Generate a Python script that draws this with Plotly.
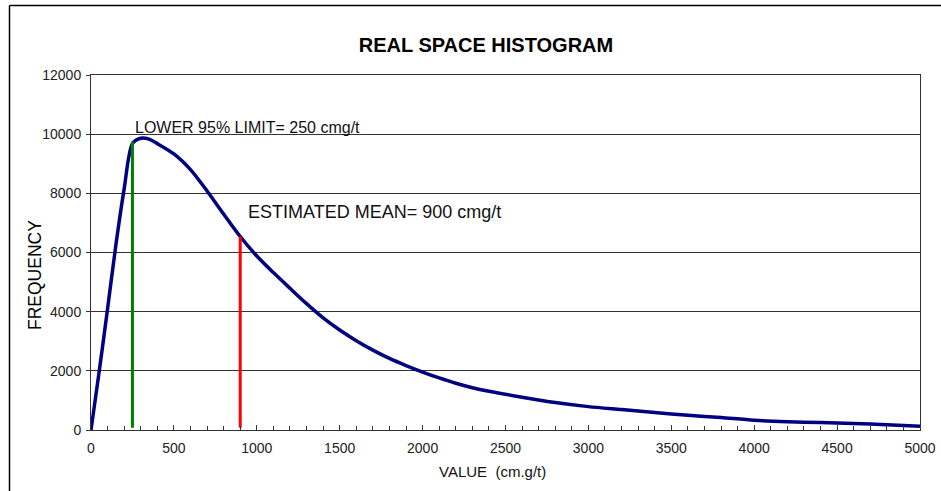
import plotly.graph_objects as go

# Data
x_values = [0, 50, 100, 150, 200, 250, 300, 350, 400, 500, 600, 700, 800, 900, 1000,
            1100, 1200, 1300, 1400, 1500, 1600, 1700, 1800, 1900, 2000, 2100, 2200, 2300,
            2400, 2600, 2800, 3000, 3200, 3400, 3600, 3800, 4000, 4200, 4400, 4600, 4800, 5000]
frequency = [0, 2000, 4100, 6250, 8150, 9680, 9860, 9830, 9680, 9330, 8800, 8080, 7300,
             6540, 5880, 5320, 4790, 4270, 3790, 3380, 3020, 2700, 2420, 2180, 1960, 1760,
             1580, 1430, 1310, 1110, 930, 790, 690, 590, 500, 420, 330, 280, 250, 220, 180, 130]
lower_limit_x = [250, 250]
lower_limit_y = [80, 9750]
mean_x = [900, 900]
mean_y = [80, 6540]
x_ticks = [0, 500, 1000, 1500, 2000, 2500, 3000, 3500, 4000, 4500, 5000]
y_ticks = [0, 2000, 4000, 6000, 8000, 10000, 12000]
y_tick_text = ["0", "2000", "4000", "6000", "8000", "10000", "12000"]
x_tick_text = ["0", "500", "1000", "1500", "2000", "2500", "3000", "3500", "4000", "4500", "5000"]

W, H = 941, 491
L, R, T, B = 91, 21, 75, 61
pw, ph = W - L - R, H - T - B

def px(xp):
    return (xp - L) / pw

def py(yp):
    return (H - B - yp) / ph

fig = go.Figure()
fig.add_trace(go.Scatter(x=x_values, y=frequency, mode="lines",
                         line=dict(color="#000080", width=3.5, shape="spline", smoothing=0.8),
                         showlegend=False, hoverinfo="skip"))
fig.add_trace(go.Scatter(x=lower_limit_x, y=lower_limit_y, mode="lines",
                         line=dict(color="#008000", width=3), showlegend=False))
fig.add_trace(go.Scatter(x=mean_x, y=mean_y, mode="lines",
                         line=dict(color="#FF0000", width=3), showlegend=False))

font_family = "Liberation Sans, Arial, sans-serif"
fig.update_layout(
    width=W, height=H,
    margin=dict(l=L, r=R, t=T, b=B, autoexpand=False),
    paper_bgcolor="white", plot_bgcolor="white",
    font=dict(family=font_family, color="#222222"),
    title=dict(text="<b>REAL SPACE HISTOGRAM</b>", x=486 / W, xanchor="center",
               y=1 - 45 / H, yanchor="middle",
               font=dict(size=20, color="#000000", family=font_family)),
    xaxis=dict(range=[0, 5000], tickvals=x_ticks, ticktext=x_tick_text, ticks="inside", ticklen=5,
               tickcolor="#333333", showline=True, linecolor="#333333", linewidth=1,
               mirror=True, showgrid=False, zeroline=False, automargin=False,
               ticklabelstandoff=5,
               minor=dict(ticks="inside", dtick=100, ticklen=4, tickcolor="#333333", showgrid=False),
               tickfont=dict(size=14, color="#222222")),
    yaxis=dict(range=[0, 12000], tickvals=y_ticks, ticktext=y_tick_text, ticks="outside", ticklen=4,
               tickcolor="#333333", showline=True, linecolor="#333333", linewidth=1,
               mirror=True, showgrid=True, gridcolor="#333333", gridwidth=1, zeroline=False,
               automargin=False, ticklabelstandoff=2,
               tickfont=dict(size=14, color="#222222")),
    shapes=[
        dict(type="line", xref="paper", yref="paper", x0=px(9.5), x1=px(9.5), y0=py(5.5), y1=py(500),
             line=dict(color="#000000", width=1.5)),
        dict(type="line", xref="paper", yref="paper", x0=px(9.5), x1=px(960), y0=py(5.5), y1=py(5.5),
             line=dict(color="#000000", width=1.5)),
    ],
    annotations=[
        dict(x=255, y=10230, xref="x", yref="y", text="LOWER 95% LIMIT= 250 cmg/t",
             showarrow=False, xanchor="left", yanchor="middle",
             font=dict(size=16, color="#111111")),
        dict(x=935, y=7380, xref="x", yref="y", text="ESTIMATED MEAN= 900 cmg/t",
             showarrow=False, xanchor="left", yanchor="middle",
             font=dict(size=18, color="#111111")),
        dict(x=px(492), y=py(471), xref="paper", yref="paper", text="VALUE  (cm.g/t)",
             showarrow=False, xanchor="center", yanchor="middle",
             font=dict(size=15, color="#111111")),
        dict(x=px(35), y=py(275), xref="paper", yref="paper", text="FREQUENCY",
             showarrow=False, xanchor="center", yanchor="middle", textangle=-90,
             font=dict(size=17.5, color="#000000")),
    ],
)

fig.write_html("out.html")
